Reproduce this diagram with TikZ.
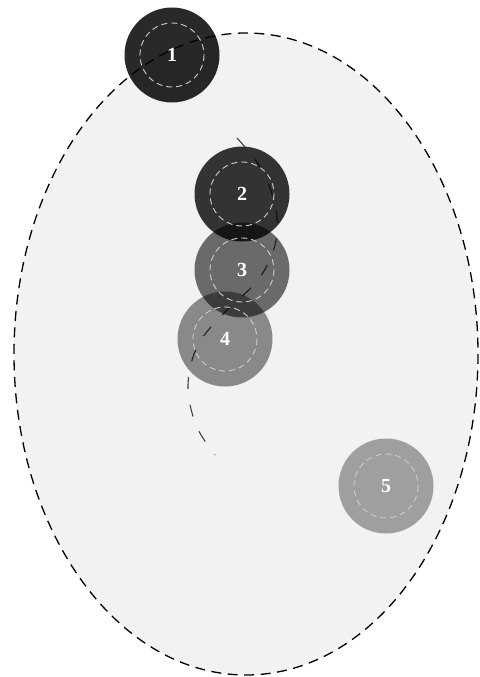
\documentclass[tikz,border=0pt]{standalone}
\usepackage{fontspec}
\setmainfont{Liberation Serif}
\begin{document}
\begin{tikzpicture}[x=1pt,y=-1pt,
  region/.style={draw=black,fill=black!5,line width=1.3pt,dash pattern=on 10pt off 6.5pt},
  body/.style={circle,minimum size=95pt,inner sep=0pt,fill=black},
  core/.style={draw=white!80!black,line width=0.9pt,dash pattern=on 6pt off 4pt},
  label/.style={text=white,font=\fontsize{20}{22}\selectfont\bfseries},
  track/.style={draw=black!75,line width=1.1pt,dash pattern=on 12pt off 16pt}]
\useasboundingbox (0,0) rectangle (479,677);
% outer region
\draw[region] (246,354) ellipse [x radius=232, y radius=321];
% path traced by the bodies
\draw[track] plot[smooth,tension=0.6] coordinates {(237,138) (262,170) (276,210) (275,245) (258,280) (225,312) (198,345) (188,385) (196,425) (215,455)};
% bodies
\node[body,fill opacity=0.84] (b1) at (172,55) {};
\node[body,fill opacity=0.79] (b2) at (242,194) {};
\node[body,fill opacity=0.56] (b3) at (242,270) {};
\node[body,fill opacity=0.43] (b4) at (225,339) {};
\node[body,fill opacity=0.34] (b5) at (386,486) {};
% dashed cores and labels
\foreach \b/\t in {b1/1,b2/2,b3/3,b4/4,b5/5}{
  \draw[core] (\b.center) circle [radius=32];
  \node[label] at (\b.center) {\t};
}
\end{tikzpicture}
\end{document}
